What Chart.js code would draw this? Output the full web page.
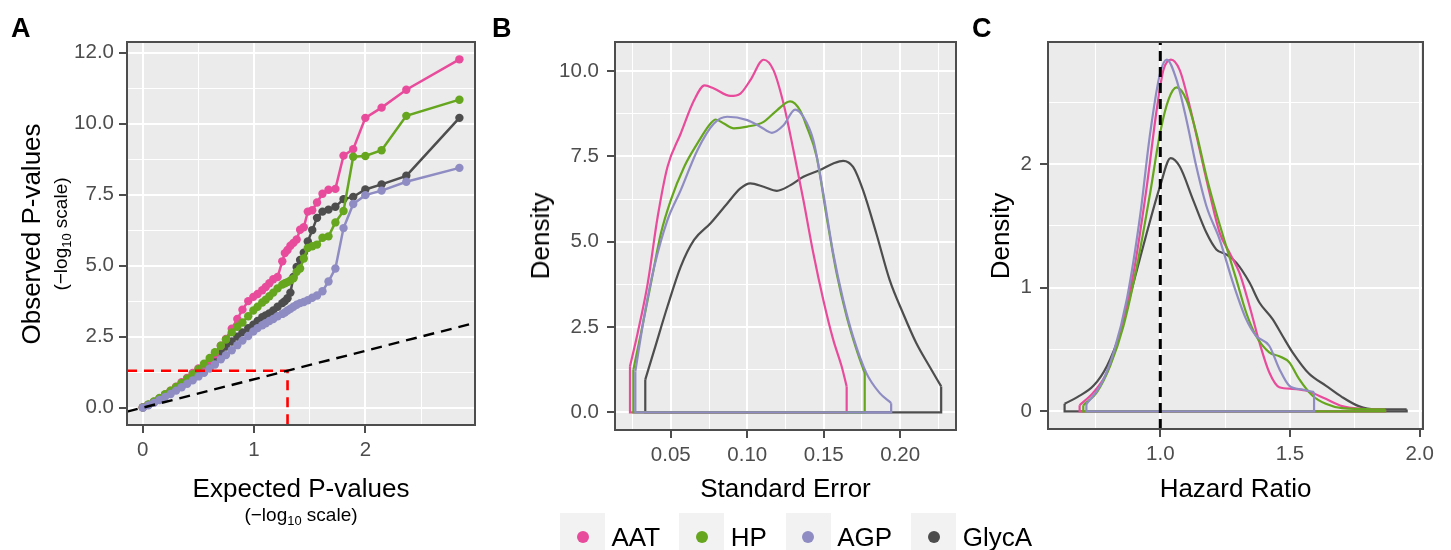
<!DOCTYPE html>
<html>
<head>
<meta charset="utf-8">
<script src="https://cdn.jsdelivr.net/npm/chart.js@4.4.0/dist/chart.umd.min.js"></script>
<style>
  html, body { margin:0; padding:0; background:#ffffff; }
  body { position:relative; width:1451px; height:550px; overflow:hidden; font-family:"Liberation Sans", Arial, Helvetica, sans-serif; }
  canvas { position:absolute; top:0; }
  .t { position:absolute; white-space:nowrap; line-height:1; color:#000; transform:translate(-50%,-50%); }
  .r { transform:translate(-50%,-50%) rotate(-90deg); }
  .letter { position:absolute; font-weight:bold; font-size:27px; line-height:1; transform:translate(0,-50%); color:#000; }
  .sub { font-size:0.68em; position:relative; top:0.28em; }
  #legend { position:absolute; left:560px; top:513px; display:flex; align-items:flex-start; }
  .key { width:45px; height:45px; background:#F2F2F2; position:relative; }
  .dot { position:absolute; width:12px; height:12px; border-radius:50%; left:16.5px; top:17.5px; }
  .lab { font-size:26px; line-height:1; margin-left:6.5px; margin-right:19px; margin-top:11px; }
</style>
</head>
<body>
<canvas id="cA" width="480" height="550" style="left:0px"></canvas>
<canvas id="cB" width="490" height="550" style="left:480px"></canvas>
<canvas id="cC" width="481" height="550" style="left:970px"></canvas>

<div class="letter" style="left:11px;top:27.5px">A</div>
<div class="letter" style="left:492px;top:27.5px">B</div>
<div class="letter" style="left:972px;top:27.5px">C</div>

<div class="t r" style="left:31px;top:233.5px;font-size:26px">Observed P-values</div>
<div class="t r" style="left:59.5px;top:233.5px;font-size:19px">(&minus;log<span class="sub">10</span> scale)</div>
<div class="t" style="left:301px;top:488px;font-size:26px">Expected P-values</div>
<div class="t" style="left:301px;top:514px;font-size:19px">(&minus;log<span class="sub">10</span> scale)</div>

<div class="t r" style="left:539.5px;top:236px;font-size:26px">Density</div>
<div class="t" style="left:785.5px;top:488px;font-size:26px">Standard Error</div>

<div class="t r" style="left:999.5px;top:235.5px;font-size:26px">Density</div>
<div class="t" style="left:1235.5px;top:488px;font-size:26px">Hazard Ratio</div>

<div id="legend"></div>

<script>
// ---------------- shared ----------------
const FONT = '"Liberation Sans", Arial, Helvetica, sans-serif';
const seriesNames  = ['AAT', 'HP', 'AGP', 'GlycA'];
const seriesColors = ['#E84B9B', '#66A61E', '#8E8CC2', '#4D4D4D'];
const seriesOrder  = [3, 2, 1, 4]; // drawing order (GlycA bottom, AGP top)

// ---------------- Panel A: QQ plot ----------------
const qqExpected = [2.845,2.368,2.146,2.000,1.891,1.804,1.731,1.669,1.615,1.566,1.523,1.483,1.447,1.414,1.383,1.354,1.327,1.301,1.277,1.254,1.212,1.173,1.138,1.105,1.074,1.032,0.994,0.948,0.896,0.850,0.800,0.748,0.702,0.649,0.602,0.551,0.501,0.449,0.400,0.350,0.300,0.251,0.201,0.151,0.101,0.051,0.001];
const qqAAT   = [12.26,11.19,10.56,10.20,9.10,8.87,7.70,7.67,7.53,7.22,6.95,6.90,6.35,6.26,5.92,5.80,5.70,5.55,5.44,5.15,4.60,4.52,4.38,4.25,4.13,4.00,3.90,3.75,3.45,3.12,2.78,2.42,2.18,1.88,1.66,1.50,1.38,1.22,1.05,0.90,0.74,0.60,0.46,0.32,0.20,0.10,0.01];
const qqHP    = [10.84,10.27,9.06,8.86,8.83,6.92,6.52,6.03,5.98,5.74,5.68,5.62,5.25,4.90,4.78,4.55,4.48,4.42,4.38,4.33,4.20,4.05,3.92,3.80,3.70,3.55,3.42,3.22,3.00,2.85,2.65,2.40,2.18,1.95,1.75,1.55,1.35,1.18,1.02,0.87,0.73,0.60,0.47,0.34,0.22,0.11,0.01];
const qqAGP   = [8.44,7.95,7.64,7.48,7.17,6.32,4.90,4.44,4.10,3.95,3.87,3.78,3.72,3.68,3.62,3.55,3.48,3.42,3.35,3.30,3.22,3.12,3.05,2.97,2.90,2.80,2.68,2.52,2.36,2.20,2.02,1.85,1.70,1.52,1.38,1.23,1.10,0.96,0.84,0.72,0.60,0.48,0.38,0.27,0.17,0.08,0.00];
const qqGlycA = [10.20,8.16,7.86,7.68,7.42,7.34,7.07,6.97,6.90,6.68,6.25,5.85,5.45,5.20,4.95,4.60,4.05,3.85,3.75,3.68,3.55,3.42,3.32,3.25,3.18,3.05,2.92,2.80,2.65,2.50,2.33,2.15,1.97,1.78,1.60,1.42,1.27,1.12,0.98,0.84,0.70,0.57,0.44,0.32,0.20,0.10,0.01];
const qqSigThreshold = 1.301; // -log10(0.05)
const qqXRange = [-0.141, 2.985];
const qqYRange = [-0.61, 12.87];
const qqXTicks = [0, 1, 2];
const qqXTickLabels = ['0', '1', '2'];
const qqXMinor = [0.5, 1.5, 2.5];
const qqYTicks = [0, 2.5, 5, 7.5, 10, 12.5];
const qqYTickLabels = ['0.0', '2.5', '5.0', '7.5', '10.0', '12.0'];
const qqYMinor = [1.25, 3.75, 6.25, 8.75, 11.25];

// ---------------- Panel B: Standard error densities ----------------
const seAAT = [[0.0233,1.35],[0.0283,2.32],[0.0349,3.78],[0.0414,5.73],[0.0478,7.19],[0.0565,8.17],[0.0652,9.14],[0.0721,9.58],[0.0782,9.49],[0.0890,9.27],[0.0955,9.34],[0.1020,9.73],[0.1107,10.33],[0.1172,10.02],[0.1237,9.05],[0.1302,7.68],[0.1367,6.22],[0.1432,4.66],[0.1497,3.30],[0.1562,2.13],[0.1617,1.35],[0.1650,0.76]];
const seHP = [[0.0255,1.25],[0.0305,2.32],[0.0370,3.78],[0.0435,5.24],[0.0500,6.22],[0.0587,7.19],[0.0674,7.88],[0.0760,8.46],[0.0793,8.58],[0.0847,8.46],[0.0912,8.32],[0.1000,8.37],[0.1107,8.51],[0.1194,8.85],[0.1280,9.11],[0.1345,8.85],[0.1389,8.37],[0.1454,7.49],[0.1519,5.73],[0.1584,4.08],[0.1650,2.81],[0.1715,1.83],[0.1768,1.15]];
const seAGP = [[0.0268,1.20],[0.0326,2.81],[0.0392,4.27],[0.0478,5.63],[0.0565,6.51],[0.0674,7.68],[0.0782,8.46],[0.0869,8.66],[0.1000,8.56],[0.1085,8.37],[0.1161,8.19],[0.1237,8.41],[0.1313,8.87],[0.1367,8.66],[0.1432,7.97],[0.1497,6.42],[0.1562,4.66],[0.1627,3.30],[0.1692,2.22],[0.1779,1.15],[0.1865,0.57],[0.1941,0.27]];
const seGlycA = [[0.0333,0.96],[0.0392,1.83],[0.0478,3.10],[0.0565,4.27],[0.0652,5.05],[0.0760,5.54],[0.0869,6.12],[0.0955,6.56],[0.1020,6.71],[0.1107,6.61],[0.1194,6.49],[0.1280,6.65],[0.1367,6.90],[0.1475,7.10],[0.1562,7.29],[0.1627,7.37],[0.1692,7.19],[0.1757,6.51],[0.1844,5.24],[0.1931,3.88],[0.2018,2.91],[0.2105,2.03],[0.2191,1.35],[0.2268,0.76]];
const seXRange = [0.0135, 0.2365];
const seYRange = [-0.517, 10.85];
const seXTicks = [0.05, 0.10, 0.15, 0.20];
const seXTickLabels = ['0.05', '0.10', '0.15', '0.20'];
const seXMinor = [0.025, 0.075, 0.125, 0.175, 0.225];
const seYTicks = [0, 2.5, 5, 7.5, 10];
const seYTickLabels = ['0.0', '2.5', '5.0', '7.5', '10.0'];
const seYMinor = [1.25, 3.75, 6.25, 8.75];

// ---------------- Panel C: Hazard ratio densities ----------------
const hrAAT = [[0.689,0.05],[0.743,0.156],[0.795,0.317],[0.846,0.639],[0.897,1.122],[0.948,1.82],[0.986,2.437],[1.012,2.76],[1.041,2.845],[1.075,2.76],[1.114,2.464],[1.152,2.115],[1.190,1.767],[1.229,1.444],[1.267,1.283],[1.305,1.122],[1.344,0.853],[1.382,0.559],[1.420,0.317],[1.459,0.196],[1.510,0.183],[1.561,0.169],[1.638,0.102],[1.701,0.043],[1.765,0.022],[1.867,0.016]];
const hrHP = [[0.703,0.05],[0.756,0.156],[0.807,0.370],[0.858,0.692],[0.910,1.176],[0.961,1.767],[0.999,2.25],[1.031,2.518],[1.063,2.62],[1.101,2.518],[1.139,2.25],[1.178,1.90],[1.216,1.605],[1.254,1.337],[1.293,1.068],[1.331,0.80],[1.369,0.612],[1.420,0.478],[1.459,0.446],[1.497,0.398],[1.535,0.263],[1.586,0.129],[1.638,0.062],[1.701,0.027],[1.867,0.016]];
const hrAGP = [[0.715,0.06],[0.769,0.209],[0.820,0.478],[0.871,0.907],[0.922,1.578],[0.961,2.25],[0.999,2.732],[1.025,2.845],[1.063,2.679],[1.101,2.357],[1.139,1.98],[1.178,1.659],[1.229,1.39],[1.280,1.042],[1.331,0.746],[1.369,0.612],[1.420,0.531],[1.459,0.344],[1.497,0.209],[1.548,0.177],[1.593,0.156]];
const hrGlycA = [[0.631,0.062],[0.680,0.116],[0.743,0.209],[0.795,0.370],[0.846,0.639],[0.897,1.042],[0.948,1.444],[0.999,1.82],[1.040,2.048],[1.075,1.98],[1.126,1.713],[1.178,1.444],[1.216,1.31],[1.254,1.27],[1.293,1.203],[1.344,1.042],[1.382,0.881],[1.433,0.746],[1.471,0.612],[1.510,0.478],[1.574,0.304],[1.638,0.209],[1.701,0.116],[1.765,0.043],[1.829,0.016],[1.950,0.016]];
const hrReference = 1.0;
const hrXRange = [0.567, 2.013];
const hrYRange = [-0.142, 2.987];
const hrXTicks = [1.0, 1.5, 2.0];
const hrXTickLabels = ['1.0', '1.5', '2.0'];
const hrXMinor = [0.75, 1.25, 1.75];
const hrYTicks = [0, 1, 2];
const hrYTickLabels = ['0', '1', '2'];
const hrYMinor = [0.5, 1.5, 2.5];

// ---------------- helpers ----------------
const panelPlugin = {
  id: 'panelFrame',
  beforeDraw(chart) {
    const a = chart.chartArea, c = chart.ctx;
    c.save(); c.fillStyle = '#EBEBEB';
    c.fillRect(a.left, a.top, a.right - a.left, a.bottom - a.top);
    c.restore();
  },
  afterDatasetsDraw(chart) {
    const a = chart.chartArea, c = chart.ctx;
    c.save(); c.strokeStyle = '#4D4D4D'; c.lineWidth = 2;
    c.strokeRect(a.left, a.top, a.right - a.left, a.bottom - a.top);
    c.restore();
  }
};

function axis(range, major, labels, minor, size, pad) {
  const all = major.concat(minor).sort((a, b) => a - b);
  const idx = v => major.findIndex(m => Math.abs(m - v) < 1e-9);
  return {
    type: 'linear', min: range[0], max: range[1], bounds: 'data',
    afterBuildTicks: s => { s.ticks = all.map(v => ({ value: v })); },
    afterFit: s => { if (s.isHorizontal()) s.height = size; else s.width = size; },
    ticks: {
      autoSkip: false, maxRotation: 0, minRotation: 0, padding: pad,
      color: '#4D4D4D', font: { family: FONT, size: 20.5 },
      callback: v => { const i = idx(v); return i < 0 ? '' : labels[i]; }
    },
    grid: {
      color: '#FFFFFF',
      lineWidth: c => (c.tick && idx(c.tick.value) >= 0) ? 2 : 1,
      drawTicks: true, tickLength: 8, tickWidth: 2,
      tickColor: c => (c.tick && idx(c.tick.value) >= 0) ? '#4D4D4D' : 'rgba(0,0,0,0)'
    },
    border: { display: false }
  };
}

function baseOptions(xAxis, yAxis, padRight) {
  return {
    responsive: false, animation: false, devicePixelRatio: 1, events: [],
    layout: { padding: { top: 42, right: padRight, left: 0, bottom: 0 } },
    plugins: { legend: { display: false }, tooltip: { enabled: false } },
    scales: { x: xAxis, y: yAxis }
  };
}

function densitySets(curves) {
  const sets = [];
  curves.forEach((pts, k) => {
    const first = pts[0], last = pts[pts.length - 1];
    sets.push({
      data: pts.map(p => ({ x: p[0], y: p[1] })),
      borderColor: seriesColors[k], borderWidth: 2.2, pointRadius: 0,
      cubicInterpolationMode: 'monotone', fill: false, order: seriesOrder[k]
    });
    sets.push({
      data: [{ x: last[0], y: last[1] }, { x: last[0], y: 0 }, { x: first[0], y: 0 }, { x: first[0], y: first[1] }],
      borderColor: seriesColors[k], borderWidth: 2.2, pointRadius: 0, tension: 0,
      fill: false, order: seriesOrder[k]
    });
  });
  return sets;
}

// ---------------- Chart A ----------------
const qqSeries = [qqAAT, qqHP, qqAGP, qqGlycA];
new Chart(document.getElementById('cA'), {
  type: 'line',
  data: {
    datasets: [
      { data: [{ x: qqXRange[0], y: qqXRange[0] }, { x: qqXRange[1], y: qqXRange[1] }],
        borderColor: '#000000', borderDash: [11, 7], borderWidth: 2.4, pointRadius: 0, order: 0 },
      { data: [{ x: qqXRange[0], y: qqSigThreshold }, { x: qqSigThreshold, y: qqSigThreshold }, { x: qqSigThreshold, y: qqYRange[0] }],
        borderColor: '#FF0000', borderDash: [10, 7], borderWidth: 2.6, pointRadius: 0, order: 0 },
      ...qqSeries.map((ys, k) => ({
        data: qqExpected.map((x, i) => ({ x: x, y: ys[i] })),
        borderColor: seriesColors[k], backgroundColor: seriesColors[k],
        borderWidth: 2.5, pointRadius: 4.2, pointBorderWidth: 0, tension: 0, order: seriesOrder[k]
      }))
    ]
  },
  options: baseOptions(
    axis(qqXRange, qqXTicks, qqXTickLabels, qqXMinor, 125, 5),
    axis(qqYRange, qqYTicks, qqYTickLabels, qqYMinor, 127, 5),
    5
  ),
  plugins: [panelPlugin]
});

// ---------------- Chart B ----------------
new Chart(document.getElementById('cB'), {
  type: 'line',
  data: { datasets: densitySets([seAAT, seHP, seAGP, seGlycA]) },
  options: baseOptions(
    axis(seXRange, seXTicks, seXTickLabels, seXMinor, 120, 5),
    axis(seYRange, seYTicks, seYTickLabels, seYMinor, 135, 8),
    14
  ),
  plugins: [panelPlugin]
});

// ---------------- Chart C ----------------
new Chart(document.getElementById('cC'), {
  type: 'line',
  data: {
    datasets: [
      { data: [{ x: hrReference, y: hrYRange[0] }, { x: hrReference, y: hrYRange[1] }],
        borderColor: '#000000', borderDash: [10, 6], borderWidth: 3, pointRadius: 0, order: 0 },
      ...densitySets([hrAAT, hrHP, hrAGP, hrGlycA])
    ]
  },
  options: baseOptions(
    axis(hrXRange, hrXTicks, hrXTickLabels, hrXMinor, 121, 5),
    axis(hrYRange, hrYTicks, hrYTickLabels, hrYMinor, 78, 8),
    28
  ),
  plugins: [panelPlugin]
});

// ---------------- Legend ----------------
const legend = document.getElementById('legend');
seriesNames.forEach((name, k) => {
  const key = document.createElement('div'); key.className = 'key';
  const dot = document.createElement('div'); dot.className = 'dot'; dot.style.background = seriesColors[k];
  key.appendChild(dot);
  const lab = document.createElement('div'); lab.className = 'lab'; lab.textContent = name;
  legend.appendChild(key); legend.appendChild(lab);
});
</script>
</body>
</html>
